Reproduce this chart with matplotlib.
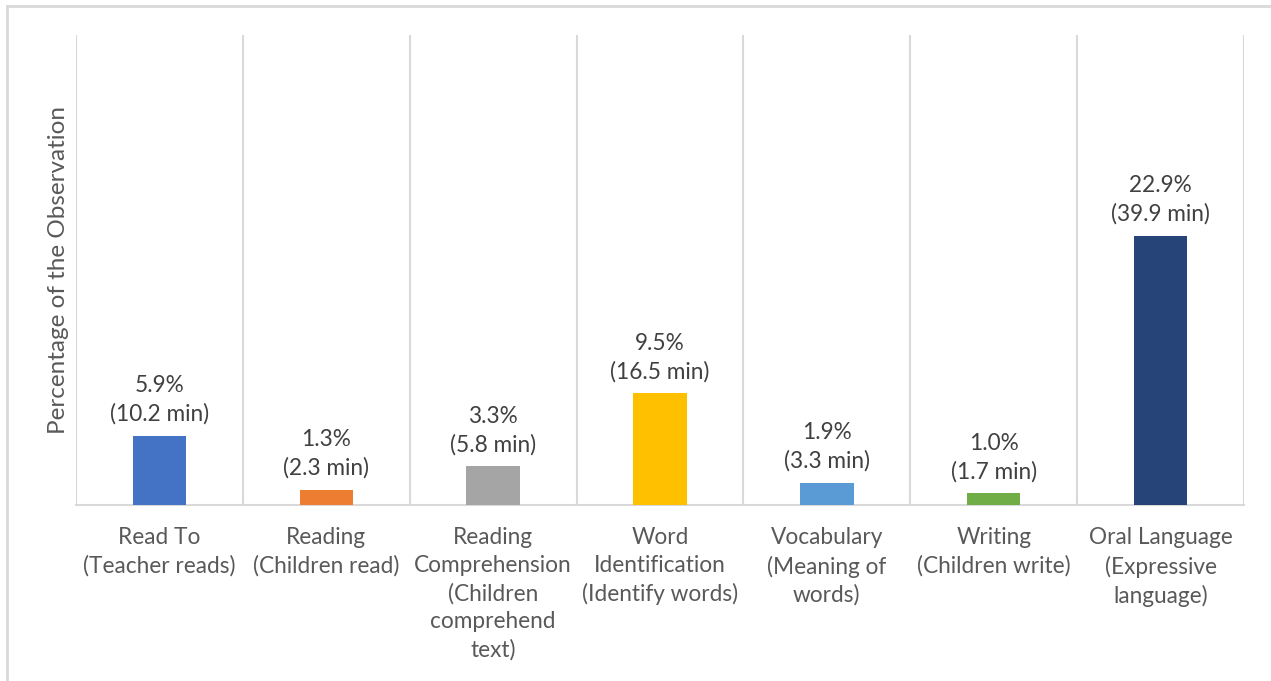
import matplotlib.pyplot as plt
from matplotlib.lines import Line2D

# Data
categories = ["Read To\n(Teacher reads)", "Reading\n(Children read)",
              "Reading\nComprehension\n(Children\ncomprehend\ntext)",
              "Word\nIdentification\n(Identify words)",
              "Vocabulary\n(Meaning of\nwords)", "Writing\n(Children write)",
              "Oral Language\n(Expressive\nlanguage)"]
percent = [5.9, 1.3, 3.3, 9.5, 1.9, 1.0, 22.9]
minutes = [10.2, 2.3, 5.8, 16.5, 3.3, 1.7, 39.9]
colors = ["#4472C4", "#ED7D31", "#A5A5A5", "#FFC000", "#5B9BD5", "#70AD47", "#264478"]

plt.rcParams['font.family'] = ['Lato', 'DejaVu Sans']
grid_col = "#D9D9D9"
fs = 16.3
ls = 1.4

fig = plt.figure(figsize=(12.71, 6.81), dpi=100)
ax = fig.add_axes([76/1271, 1 - 505/681, (1244-76)/1271, (505-35)/681])

x = list(range(len(categories)))
bars = ax.bar(x, percent, width=0.32, color=colors, zorder=3)

for xi, p, m in zip(x, percent, minutes):
    ax.annotate(f"{p}%\n({m} min)", (xi, p), xytext=(0, 8), textcoords='offset points',
                ha='center', va='bottom', fontsize=fs, color="#404040", linespacing=ls)

ax.set_xlim(-0.5, len(categories) - 0.5)
ax.set_ylim(0, 40)
ax.set_xticks(x)
ax.set_xticklabels(categories, fontsize=fs, color="#595959", linespacing=ls)
ax.tick_params(axis='x', length=0, pad=16)
ax.set_yticks([])

# separators between categories
for b in [i - 0.5 for i in range(len(categories) + 1)]:
    ax.axvline(b, color=grid_col, lw=1.5, zorder=1)

for s in ['top', 'right', 'left']:
    ax.spines[s].set_visible(False)
ax.spines['bottom'].set_color(grid_col)
ax.spines['bottom'].set_linewidth(1.5)

ax.set_ylabel("Percentage of the Observation", fontsize=17.5, color="#595959", labelpad=5)

# outer chart frame (partly cropped)
fig.add_artist(Line2D([7/1271, 1], [1 - 6/681, 1 - 6/681], color=grid_col, lw=2, transform=fig.transFigure))
fig.add_artist(Line2D([7/1271, 7/1271], [0, 1 - 6/681], color=grid_col, lw=2, transform=fig.transFigure))

fig.savefig("out.png", dpi=100)
